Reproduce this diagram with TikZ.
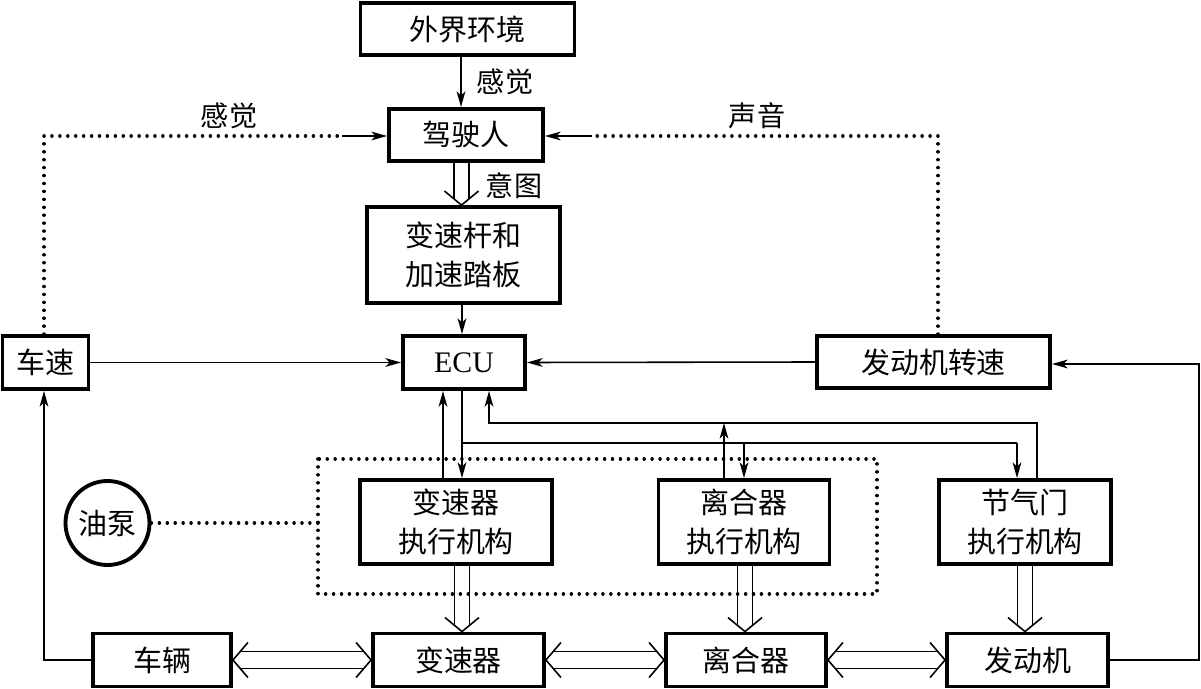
\documentclass[tikz,border=0pt]{standalone}
\usepackage{fontspec}
\setmainfont{Liberation Serif}
\newfontfamily\cjk{Noto Sans CJK SC}
\usetikzlibrary{arrows.meta,calc}
\newcommand\dbldown[3]{%
  \path (#1,0 |- #2.south) coordinate (s) (#1,0 |- #3.north) coordinate (t);
  \draw[ln] ($(s)+(-7.5,0)$) -- ($(t)+(-7.5,-6)$) ($(s)+(7.5,0)$) -- ($(t)+(7.5,-6)$);
  \draw[ln] ($(t)+(-17,-14)$) -- (t) -- ($(t)+(17,-14)$);}
\newcommand\dblh[2]{%
  \path (#1.east) coordinate (a) (#2.west) coordinate (b);
  \draw[ln] ($(a)+(7,-8.5)$) -- ($(b)+(-7,-8.5)$) ($(a)+(7,8.5)$) -- ($(b)+(-7,8.5)$);
  \draw[ln] ($(a)+(15,-17.5)$) -- (a) -- ($(a)+(15,17.5)$);
  \draw[ln] ($(b)+(-15,-17.5)$) -- (b) -- ($(b)+(-15,17.5)$);}
\begin{document}
\begin{tikzpicture}[x=0.02cm,y=-0.02cm,
  box/.style 2 args={draw, line width=2.2pt, minimum width=#1*0.02cm, minimum height=#2*0.02cm,
     inner sep=0pt, align=center, font=\cjk\fontsize{16.5}{22}\selectfont},
  lbl/.style={font=\cjk\fontsize{16}{20}\selectfont, inner sep=0pt},
  ln/.style={line width=0.9pt},
  arr/.style={line width=0.9pt, -{Stealth[length=9pt,width=5pt,inset=2.5pt]}},
  dot/.style={line width=2pt, dash pattern=on 0.01pt off 4.5pt, line cap=round}]
\useasboundingbox (0,0) rectangle (1201,689);
% nodes
\node[box={214}{52}] (env) at (467.5,29) {外界环境};
\node[box={154}{52}] (drv) at (466,135) {驾驶人};
\node[box={193}{96}] (lever) at (463.5,255) {变速杆和\\加速踏板};
\node[box={122}{53}, font=\fontsize{17}{20}\selectfont] (ecu) at (464,362.5) {ECU};
\node[box={86}{53}] (spd) at (45.5,362.5) {车速};
\node[box={233}{52}] (rpm) at (933.5,362) {发动机转速};
\node[box={192}{84}] (gact) at (456,522) {变速器\\执行机构};
\node[box={171}{84}] (cact) at (744,522) {离合器\\执行机构};
\node[box={172}{84}] (tact) at (1025,522) {节气门\\执行机构};
\node[box={138}{53}] (veh) at (162,660) {车辆};
\node[box={171}{53}] (gear) at (458.5,660) {变速器};
\node[box={160}{53}] (clu) at (746,660) {离合器};
\node[box={161}{53}] (eng) at (1027.5,660) {发动机};
\node[box={84}{84}, shape=circle, minimum size=84*0.02cm] (pump) at (107.5,523) {油泵};
% labels
\node[lbl] (l1) at (505,82) {感觉};
\node[lbl] (l2) at (514,186) {意图};
\node[lbl] (l3) at (229,116) {感觉};
\node[lbl] (l4) at (757,116) {声音};
% top chain
\draw[arr] (461,0 |- env.south) -- (461,0 |- drv.north);
\dbldown{461.5}{drv}{lever}
\draw[arr] (462,0 |- lever.south) -- (462,0 |- ecu.north);
% sensors to ECU
\draw[arr] (spd.east) -- (ecu.west);
\draw[arr] (rpm.west) -- (ecu.east);
% dotted feedback to driver
\coordinate (dl) at (342,136);
\coordinate (dr) at (592,136);
\draw[dot] (44,0 |- spd.north) |- (dl);
\draw[arr] (dl) -- (drv.west |- dl);
\draw[dot] (938,0 |- rpm.north) |- (dr);
\draw[arr] (dr) -- (drv.east |- dr);
% outer loops
\coordinate (rr) at (1199,364);
\draw[arr] (eng.east) -| (rr) -- (rpm.east |- rr);
\draw[arr] (veh.west) -| (44,0 |- spd.south);
% ECU to/from actuators
\draw[arr] (443,0 |- gact.north) -- (443,0 |- ecu.south);
\draw[arr] (462,0 |- ecu.south) -- (462,0 |- gact.north);
\coordinate (cb) at (462,443);
\coordinate (cm) at (744,443);
\draw[ln] (cb) -- (1017,443);
\draw[arr] (1017,443) -- (1017,0 |- tact.north);
\draw[arr] (cm) -- (744,0 |- cact.north);
\coordinate (fb) at (724,423);
\draw[arr] (1037,0 |- tact.north) |- (489,423) -- (489,0 |- ecu.south);
\draw[arr] (724,0 |- cact.north) -- (fb);
% dotted group and pump
\draw[dot] (318,459) rectangle (877,594);
\draw[dot] (pump.east) -- (318,523);
% actuators to plant
\dbldown{462}{gact}{gear}
\dbldown{745}{cact}{clu}
\dbldown{1025}{tact}{eng}
% plant chain
\dblh{veh}{gear}
\dblh{gear}{clu}
\dblh{clu}{eng}
\end{tikzpicture}
\end{document}
